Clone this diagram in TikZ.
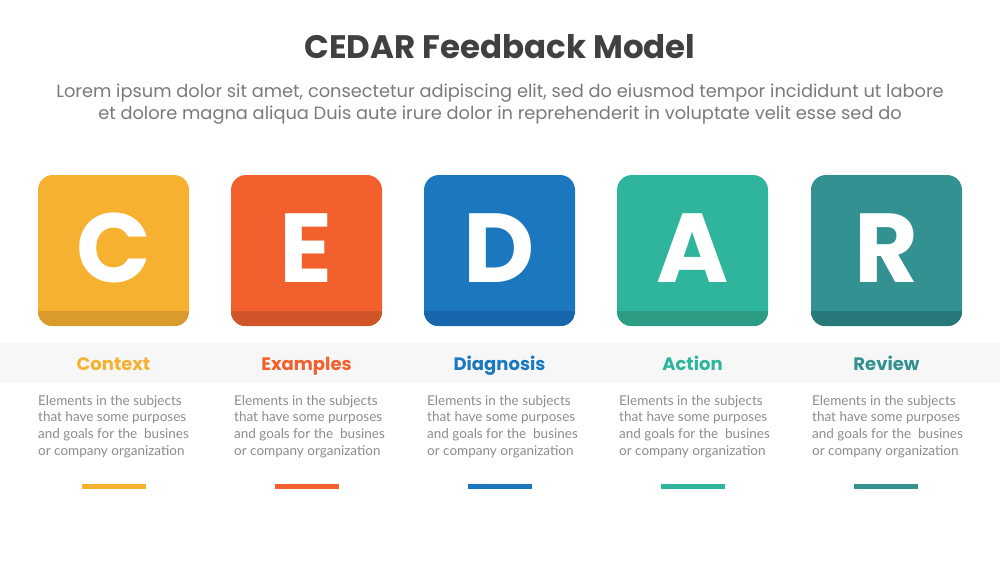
\documentclass[tikz,border=0pt]{standalone}
\usepackage{fontspec}
\setmainfont{Poppins}
\newfontfamily\latofont{Lato}
\usepackage{tikz}

\definecolor{titlegray}{HTML}{404040}
\definecolor{subgray}{HTML}{7A7A7A}
\definecolor{descgray}{HTML}{8C8C8C}
\definecolor{bandgray}{HTML}{F7F7F7}
\definecolor{cyellow}{HTML}{F7B131}
\definecolor{cyellowdk}{HTML}{D99B2C}
\definecolor{cred}{HTML}{F2602E}
\definecolor{creddk}{HTML}{D2552A}
\definecolor{cblue}{HTML}{1B77BE}
\definecolor{cbluedk}{HTML}{1866AB}
\definecolor{cgreen}{HTML}{2EB59C}
\definecolor{cgreendk}{HTML}{2C9C84}
\definecolor{cteal}{HTML}{339191}
\definecolor{ctealdk}{HTML}{277878}

\tikzset{
    card/.style={rounded corners=15pt, minimum width=151pt, minimum height=151pt, inner sep=0pt},
    letter/.style={text=white, font=\fontsize{98}{98}\selectfont\bfseries},
    steplabel/.style={font=\fontsize{18}{18}\selectfont\bfseries, anchor=base},
    desc/.style={anchor=north west, align=left, text=descgray, inner sep=0pt,
        font=\latofont\fontsize{13.5}{16.8}\selectfont},
    bar/.style={minimum width=64pt, minimum height=5pt, inner sep=0pt}
}

\begin{document}
\begin{tikzpicture}[x=1pt, y=-1pt]
    \useasboundingbox (0,0) rectangle (1000,563);
    \fill [white] (0,0) rectangle (1000,563);

    % title and subtitle
    \node [text=titlegray, font=\fontsize{32.5}{32.5}\selectfont\bfseries, anchor=base] at (500,58) (title) {CEDAR Feedback Model};
    \node [text=subgray, font=\fontsize{17.8}{22}\selectfont, align=center, anchor=base] at (500,119) (subtitle) {Lorem ipsum dolor sit amet, consectetur adipiscing elit, sed do eiusmod tempor incididunt ut labore\\et dolore magna aliqua Duis aute irure dolor in reprehenderit in voluptate velit esse sed do};

    % label band
    \fill [bandgray] (0,343) rectangle (1000,383);

    % cards
    \node [card, fill=cyellow] at (113.5,250.5) (c) {};
    \node [card, fill=cred] at (306.5,250.5) (e) {};
    \node [card, fill=cblue] at (499.5,250.5) (d) {};
    \node [card, fill=cgreen] at (692.5,250.5) (a) {};
    \node [card, fill=cteal] at (886.5,250.5) (r) {};

    % card shadows
    \begin{scope}
        \clip [rounded corners=15pt] (c.south west) rectangle (c.north east);
        \fill [cyellowdk] (c.south west) rectangle ([yshift=15pt]c.south east);
    \end{scope}
    \begin{scope}
        \clip [rounded corners=15pt] (e.south west) rectangle (e.north east);
        \fill [creddk] (e.south west) rectangle ([yshift=15pt]e.south east);
    \end{scope}
    \begin{scope}
        \clip [rounded corners=15pt] (d.south west) rectangle (d.north east);
        \fill [cbluedk] (d.south west) rectangle ([yshift=15pt]d.south east);
    \end{scope}
    \begin{scope}
        \clip [rounded corners=15pt] (a.south west) rectangle (a.north east);
        \fill [cgreendk] (a.south west) rectangle ([yshift=15pt]a.south east);
    \end{scope}
    \begin{scope}
        \clip [rounded corners=15pt] (r.south west) rectangle (r.north east);
        \fill [ctealdk] (r.south west) rectangle ([yshift=15pt]r.south east);
    \end{scope}

    % letters
    \node [letter] at ([yshift=2.5pt]c.center) (cl) {C};
    \node [letter] at ([yshift=2.5pt]e.center) (el) {E};
    \node [letter] at ([yshift=2.5pt]d.center) (dl) {D};
    \node [letter] at ([yshift=2.5pt]a.center) (al) {A};
    \node [letter] at ([yshift=2.5pt]r.center) (rl) {R};

    % labels
    \node [steplabel, text=cyellow] at (113.5,370) (context) {Context};
    \node [steplabel, text=cred] at (306.5,370) (examples) {Examples};
    \node [steplabel, text=cblue] at (499.5,370) (diagnosis) {Diagnosis};
    \node [steplabel, text=cgreen] at (692.5,370) (action) {Action};
    \node [steplabel, text=cteal] at (886.5,370) (review) {Review};

    % descriptions
    \node [desc] at (38,395) (cdesc) {Elements in the subjects\\that have some purposes\\and goals for the\ \ busines\\or company organization};
    \node [desc] at (234,395) (edesc) {Elements in the subjects\\that have some purposes\\and goals for the\ \ busines\\or company organization};
    \node [desc] at (427,395) (ddesc) {Elements in the subjects\\that have some purposes\\and goals for the\ \ busines\\or company organization};
    \node [desc] at (619,395) (adesc) {Elements in the subjects\\that have some purposes\\and goals for the\ \ busines\\or company organization};
    \node [desc] at (812,395) (rdesc) {Elements in the subjects\\that have some purposes\\and goals for the\ \ busines\\or company organization};

    % bars
    \node [bar, fill=cyellow] at (113.7,486) (cbar) {};
    \node [bar, fill=cred] at (306.7,486) (ebar) {};
    \node [bar, fill=cblue] at (499.7,486) (dbar) {};
    \node [bar, fill=cgreen] at (692.7,486) (abar) {};
    \node [bar, fill=cteal] at (886,486) (rbar) {};
\end{tikzpicture}
\end{document}
